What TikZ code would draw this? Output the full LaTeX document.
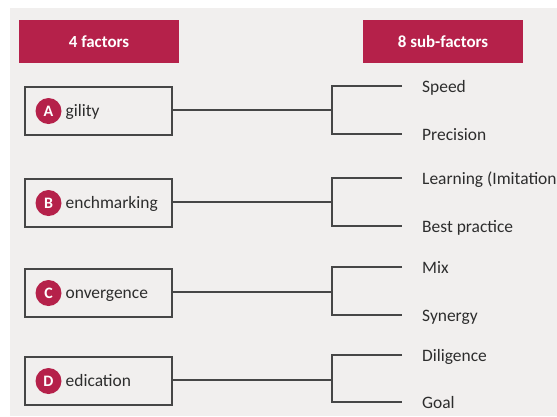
\documentclass[tikz,border=0pt]{standalone}
\usepackage{fontspec}
\setmainfont{Carlito}
\definecolor{crim}{RGB}{181,33,74}
\definecolor{bg}{RGB}{241,239,238}
\definecolor{ln}{RGB}{70,70,70}
\definecolor{tx}{RGB}{45,45,45}
\begin{document}
\begin{tikzpicture}[x=1bp,y=-1bp,
  hdr/.style={fill=crim,text=white,minimum width=160bp,minimum height=43bp,inner sep=0pt,font=\fontsize{17}{18}\selectfont\bfseries},
  fbox/.style={draw=ln,line width=2.2bp,minimum width=147bp,minimum height=48bp,inner sep=0pt},
  lett/.style={circle,fill=crim,text=white,minimum size=26bp,inner sep=0pt,font=\fontsize{16}{16}\selectfont\bfseries},
  ftxt/.style={anchor=base west,inner sep=0pt,text=tx,font=\fontsize{17.5}{18}\selectfont},
  sub/.style={anchor=base west,inner sep=0pt,text=tx,font=\fontsize{17.5}{18}\selectfont},
  conn/.style={draw=ln,line width=2bp}]
\useasboundingbox (0,0) rectangle (557,416);
\fill[white] (0,0) rectangle (557,416);
\fill[bg] (10,8) rectangle (557,416);
\node[hdr] (h1) at (99,41.5) {4 factors};
\node[hdr] (h2) at (443,41.5) {8 sub-factors};
\foreach \n/\l/\t/\y/\ya/\yb/\sa/\sb in {
  A/A/gility/110/86/134/Speed/Precision,
  B/B/enchmarking/202/178/226/Learning (Imitation/Best practice,
  C/C/onvergence/292/267/315/Mix/Synergy,
  D/D/edication/380/355/402/Diligence/Goal}{
  \node[fbox] (\n) at (98.5,\y+1) {};
  \node[lett] (c\n) at (48.5,\y+1) {\l};
  \node[ftxt] (t\n) at (65.5,\y+6.5) {\t};
  \coordinate (j\n) at (332,\y);
  \coordinate (e\n1) at (402,\ya);
  \coordinate (e\n2) at (402,\yb);
  \node[sub] (s\n1) at (422,\ya+6) {\sa};
  \node[sub] (s\n2) at (422,\yb+6) {\sb};
  \draw[conn] (\n.east |- j\n) -- (j\n);
  \draw[conn] (e\n1) -| (j\n) |- (e\n2);
}
\end{tikzpicture}
\end{document}
